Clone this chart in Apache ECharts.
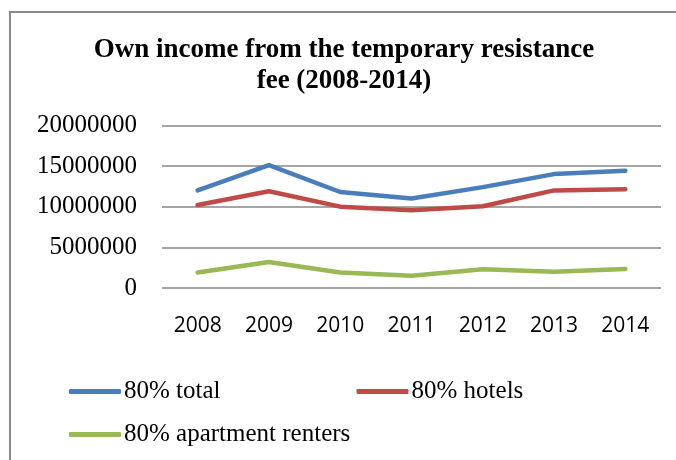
<!DOCTYPE html>
<html>
<head>
<meta charset="utf-8">
<script src="https://cdn.jsdelivr.net/npm/echarts@6/dist/echarts.min.js"></script>
<style>
  html, body { margin: 0; padding: 0; background: #fff; }
  #plot { width: 676px; height: 460px; }
</style>
</head>
<body>
<div id="plot"></div>
<script>
"use strict";

// Years on the x axis.
var years = ['2008', '2009', '2010', '2011', '2012', '2013', '2014'];
// Series values.
var total = [12000000, 15100000, 11800000, 11000000, 12400000, 14000000, 14400000];
var hotels = [10200000, 11900000, 10000000, 9550000, 10050000, 12000000, 12150000];
var renters = [1900000, 3200000, 1900000, 1500000, 2300000, 2000000, 2350000];
var names = ['80% total', '80% hotels', '80% apartment renters'];
var colors = ['#4A7EBB', '#BE4B48', '#98B954'];

var serif = '"Liberation Serif", "Times New Roman", serif';

function lineSeries(name, values, color) {
  return {
    name: name,
    type: 'line',
    data: values,
    showSymbol: false,
    symbol: 'none',
    lineStyle: { color: color, width: 4.5, cap: 'round', join: 'round' },
    itemStyle: { color: color },
    animation: false
  };
}

var legendBase = {
  icon: 'roundRect',
  itemWidth: 52,
  itemHeight: 5,
  itemGap: 136,
  textStyle: { fontFamily: serif, fontSize: 25, color: '#000', padding: [0, 0, 0, -2] }
};

var chart = echarts.init(document.getElementById('plot'));
chart.setOption({
  backgroundColor: '#fff',
  animation: false,
  color: colors,
  title: {
    text: 'Own income from the temporary resistance\nfee (2008-2014)',
    left: 344,
    top: 35,
    padding: 0,
    textAlign: 'center',
    textStyle: {
      fontFamily: serif,
      fontWeight: 'bold',
      fontSize: 27,
      lineHeight: 31,
      color: '#000'
    }
  },
  graphic: [{
    type: 'rect',
    shape: { x: 10, y: 12, width: 700, height: 500 },
    style: { fill: null, stroke: '#8a8a8a', lineWidth: 2 },
    silent: true
  }],
  legend: [
    Object.assign({}, legendBase, { data: [names[0], names[1]], left: 64, top: 374 }),
    Object.assign({}, legendBase, { data: [names[2]], left: 64, top: 417 })
  ],
  grid: { left: 162, right: 15, top: 125.3, bottom: 172, containLabel: false },
  xAxis: {
    type: 'category',
    data: years,
    boundaryGap: true,
    axisLine: { show: false },
    axisTick: { show: false },
    axisLabel: {
      fontFamily: '"Open Sans", sans-serif',
      fontSize: 21,
      color: '#000',
      margin: 28
    }
  },
  yAxis: {
    type: 'value',
    min: 0,
    max: 20000000,
    interval: 5000000,
    axisLine: { show: false },
    axisTick: { show: false },
    axisLabel: {
      fontFamily: serif,
      fontSize: 25,
      color: '#000',
      margin: 25,
      formatter: function (v) { return String(v); }
    },
    splitLine: { lineStyle: { color: '#888', width: 1.5 } }
  },
  series: [
    lineSeries(names[0], total, colors[0]),
    lineSeries(names[1], hotels, colors[1]),
    lineSeries(names[2], renters, colors[2])
  ]
});
</script>
</body>
</html>
